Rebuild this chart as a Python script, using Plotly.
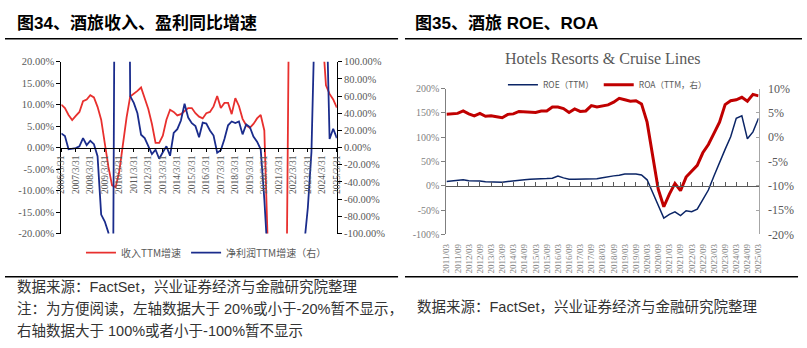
import plotly.graph_objects as go

# ---------------- Left chart: 酒旅收入、盈利同比增速 (quarterly) ----------------
left_quarters = [f"{y}/{q}" for y in range(2006, 2025) for q in ["3/31", "6/30", "9/30", "12/31"]] + ["2025/3/31"]
left_tick_labels = [f"{y}/3/31" for y in range(2006, 2026)]

revenue_ttm = [10.0, 9.2, 7.6, 6.4, 7.4, 8.3, 10.8, 11.2, 12.2, 11.7,
               9.5, 6.5, 1.0, -4.5, -8.8, -9.2, -5.5, 1.0, 7.0, 11.9,
               12.5, 13.2, 14.0, 11.5, 9.0, 5.5, 1.1, 1.1, 2.8, 6.5,
               8.8, 8.3, 7.5, 7.8, 8.6, 9.2, 9.2, 8.0, 7.2, 6.8,
               8.0, 8.3, 9.6, 12.0, 9.2, 10.4, 10.4, 7.8, 11.5, 9.7,
               6.7, 5.2, 4.6, 5.5, 6.8, 7.6, 4.0, -24, -60, -75,
               -80, -70, -45, 45, 150, 200, 220, 180, 110, 70,
               45, 32, 27, 14.5, 12.5, 11.2, 9.3]

profit_ttm = [16.5, 13.5, -2, -1.5, -0.5, 1.5, 11, 3, 8, 4,
              -10, -78, -86, -99, -400, 450, 800, 1000, 700, 60,
              52, 40, 15, 11, 2, -7.5, -2.5, -13, -5.5, 1.5,
              -9.5, 17, 21.5, 31.5, 51, 35, 28.5, 25, 12, 29,
              28, 20, 14, -6, -3, 10, 26, 30.4, 28.5, 30.4,
              15.4, 27, 24, 12.8, 7, -2, -60, -150, -250, -300,
              -350, -300, -250, -200, -170, -150, -130, -113, -70, -5,
              170, 600, 900, 190, 10, 22, 11]

left_y_vals = [-20, -15, -10, -5, 0, 5, 10, 15, 20]
left_y_text = ["-20.00%", "-15.00%", "-10.00%", "-5.00%", "0.00%", "5.00%", "10.00%", "15.00%", "20.00%"]
right_y_vals = [-100, -80, -60, -40, -20, 0, 20, 40, 60, 80, 100]
right_y_text = ["-100.00%", "-80.00%", "-60.00%", "-40.00%", "-20.00%", "0.00%",
                "20.00%", "40.00%", "60.00%", "80.00%", "100.00%"]

# ---------------- Right chart: Hotels Resorts & Cruise Lines ROE / ROA ----------------
right_quarters = [f"{y}/{m}" for y in range(2011, 2025) for m in ["03", "06", "09", "12"]] + ["2025/03"]
right_tick_labels = [f"{y}/{m}" for y in range(2011, 2025) for m in ["03", "09"]] + ["2025/03"]

roe_ttm = [9.1, 9.8, 10.5, 12.4, 10.5, 10.5, 10.0, 8.5, 8.5, 8.0,
           7.2, 9.0, 10.5, 11.5, 12.4, 13.4, 14.4, 14.7, 15.0, 15.8,
           20.3, 16.4, 13.8, 13.5, 13.8, 14.4, 15.0, 14.4, 16.5, 19.0,
           20.5, 21.7, 24.3, 24.3, 24.3, 22.3, 12.4, -13.8, -40, -66.5,
           -58.6, -53.3, -61, -51.3, -53.3, -48, -28.4, -8.6, 20.3, 48.6,
           75, 101, 139, 144, 96.7, 111, 139]

roa_ttm = [4.7, 4.8, 4.9, 5.4, 4.8, 4.4, 4.9, 4.3, 4.4, 4.2,
           4.0, 4.7, 4.8, 5.3, 5.2, 5.1, 5.1, 5.4, 5.4, 6.2,
           6.2, 5.9, 5.1, 5.8, 5.3, 5.4, 6.5, 6.2, 6.4, 6.65,
           7.2, 8.0, 7.7, 7.4, 7.5, 6.85, 3.1, -4.1, -10.7, -14.3,
           -11.7, -9.5, -11.0, -8.2, -7.1, -5.8, -3.2, -1.5, 0.8, 3.1,
           6.7, 7.5, 7.7, 8.2, 7.4, 8.8, 8.5]

roe_y_vals = [-100, -50, 0, 50, 100, 150, 200]
roe_y_text = ["-100%", "-50%", "0%", "50%", "100%", "150%", "200%"]
roa_y_vals = [-20, -15, -10, -5, 0, 5, 10]
roa_y_text = ["-20%", "-15%", "-10%", "-5%", "0%", "5%", "10%"]

# ---------------- geometry helpers ----------------
W, H = 807, 348
def px(x):
    return x / W
def py(y):
    return 1 - y / H

CJK = "Noto Sans CJK SC"
SANS = "Liberation Sans, Noto Sans CJK SC"
SERIF = "Liberation Serif"

fig = go.Figure()

fig.add_trace(go.Scatter(x=left_quarters, y=revenue_ttm, mode="lines", name="收入TTM增速",
                         line=dict(color="#E8302E", width=1.8), xaxis="x", yaxis="y", legend="legend"))
fig.add_trace(go.Scatter(x=left_quarters, y=profit_ttm, mode="lines", name="净利润TTM增速（右）",
                         line=dict(color="#1A2C8C", width=1.8), xaxis="x", yaxis="y2", legend="legend"))

fig.add_trace(go.Scatter(x=right_quarters, y=roe_ttm, mode="lines", name="ROE（TTM）",
                         line=dict(color="#0B2566", width=1.5), xaxis="x3", yaxis="y3", legend="legend2"))
fig.add_trace(go.Scatter(x=right_quarters, y=roa_ttm, mode="lines", name="ROA（TTM，右）",
                         line=dict(color="#C00000", width=3), xaxis="x3", yaxis="y4", legend="legend2"))
# helper trace for the zero-line tick axis of the right chart
fig.add_trace(go.Scatter(x=[0, len(right_quarters) - 1], y=[None, None], mode="lines",
                         showlegend=False, hoverinfo="skip", xaxis="x4", yaxis="y3"))

lx0, lx1 = px(57), px(336)
ly0, ly1 = py(236), py(57)
rx0, rx1 = px(447), px(763)
ry0, ry1 = py(237), py(85)

left_tickfont = dict(family=SERIF, size=10.5, color="#595959")

fig.update_layout(
    width=W, height=H,
    margin=dict(l=0, r=0, t=0, b=0),
    paper_bgcolor="white", plot_bgcolor="rgba(0,0,0,0)",
    showlegend=True,
    xaxis=dict(domain=[lx0, lx1], anchor="free", position=(ly0 + ly1) / 2,
               type="category", categoryorder="array", categoryarray=left_quarters,
               range=[0, len(left_quarters) - 1],
               tickmode="array", tickvals=left_tick_labels, ticktext=left_tick_labels,
               tickangle=-90, tickfont=dict(family=SERIF, size=9.5, color="#595959"),
               showline=True, linecolor="#000000", linewidth=1,
               ticks="outside", ticklen=3, tickcolor="#000000",
               showgrid=False, zeroline=False),
    yaxis=dict(domain=[ly0, ly1], anchor="x", range=[-20, 20],
               tickmode="array", tickvals=left_y_vals, ticktext=left_y_text,
               tickfont=left_tickfont, showline=True, linecolor="#000000", linewidth=1,
               ticks="outside", ticklen=4, tickcolor="#000000",
               showgrid=False, zeroline=False),
    yaxis2=dict(overlaying="y", side="right", anchor="x", range=[-100, 100],
                tickmode="array", tickvals=right_y_vals, ticktext=right_y_text,
                tickfont=left_tickfont, showline=True, linecolor="#000000", linewidth=1,
                ticks="outside", ticklen=4, tickcolor="#000000",
                showgrid=False, zeroline=False),
    xaxis3=dict(domain=[rx0, rx1], anchor="y3",
                type="category", categoryorder="array", categoryarray=right_quarters,
                range=[0, len(right_quarters) - 1],
                tickmode="array", tickvals=right_tick_labels, ticktext=right_tick_labels,
                tickangle=-90, tickfont=dict(family=SERIF, size=9, color="#7F7F7F"),
                showline=False, ticks="outside", ticklen=5, tickcolor="rgba(0,0,0,0)",
                showgrid=False, zeroline=False),
    xaxis4=dict(domain=[rx0, rx1], overlaying="x3", anchor="free",
                position=ry0 + (ry1 - ry0) * (100 / 300),
                type="linear", range=[0, len(right_quarters) - 1],
                tickmode="linear", tick0=0, dtick=2,
                showticklabels=False, showline=True, linecolor="#595959", linewidth=1,
                ticks="inside", ticklen=4, tickcolor="#595959",
                showgrid=False, zeroline=False),
    yaxis3=dict(domain=[ry0, ry1], anchor="x3", range=[-100, 200],
                tickmode="array", tickvals=roe_y_vals, ticktext=roe_y_text,
                tickfont=dict(family=SERIF, size=10, color="#7F7F7F"),
                showline=True, linecolor="#7F7F7F", linewidth=1,
                ticks="outside", ticklen=4, tickcolor="#7F7F7F",
                showgrid=False, zeroline=False),
    yaxis4=dict(overlaying="y3", side="right", anchor="x3", range=[-20, 10],
                tickmode="array", tickvals=roa_y_vals, ticktext=roa_y_text,
                tickfont=dict(family=SERIF, size=12, color="#595959"),
                showline=True, linecolor="#A6A6A6", linewidth=1,
                ticks="inside", ticklen=3, tickcolor="#A6A6A6", ticklabelstandoff=6,
                showgrid=False, zeroline=False),
    legend=dict(orientation="h", x=px(204), y=py(256), xanchor="center", yanchor="middle",
                font=dict(family=CJK, size=10, color="#595959"), bgcolor="rgba(0,0,0,0)",
                itemwidth=30, tracegroupgap=0),
    legend2=dict(orientation="h", x=px(610), y=py(81), xanchor="center", yanchor="middle",
                 font=dict(family=CJK, size=8.5, color="#595959"), bgcolor="rgba(0,0,0,0)",
                 itemwidth=30, tracegroupgap=0),
)

annotations = [
    dict(text="<b>图34、酒旅收入、盈利同比增速</b>", x=px(10), y=py(17), xanchor="left", yanchor="middle",
         font=dict(family=SANS, size=17, color="#000000")),
    dict(text="<b>图35、酒旅 ROE、ROA</b>", x=px(413), y=py(17), xanchor="left", yanchor="middle",
         font=dict(family=SANS, size=17, color="#000000")),
    dict(text="Hotels Resorts & Cruise Lines", x=px(605), y=py(54), xanchor="center", yanchor="middle",
         font=dict(family=SERIF, size=16, color="#595959")),
    dict(text="数据来源：FactSet，兴业证券经济与金融研究院整理", x=px(10), y=py(292), xanchor="left", yanchor="middle",
         font=dict(family=SANS, size=14.5, color="#333333")),
    dict(text="注：为方便阅读，左轴数据大于 20%或小于-20%暂不显示，", x=px(10), y=py(315), xanchor="left", yanchor="middle",
         font=dict(family=SANS, size=14.5, color="#333333")),
    dict(text="右轴数据大于 100%或者小于-100%暂不显示", x=px(10), y=py(338), xanchor="left", yanchor="middle",
         font=dict(family=SANS, size=14.5, color="#333333")),
    dict(text="数据来源：FactSet，兴业证券经济与金融研究院整理", x=px(415), y=py(313), xanchor="left", yanchor="middle",
         font=dict(family=SANS, size=14.5, color="#333333")),
]
for a in annotations:
    a.update(xref="paper", yref="paper", showarrow=False)
fig.update_layout(annotations=annotations)

shapes = [
    dict(type="line", x0=0, x1=px(398), y0=py(33), y1=py(33)),
    dict(type="line", x0=px(405), x1=1, y0=py(33), y1=py(33)),
    dict(type="line", x0=0, x1=px(398), y0=py(281), y1=py(281)),
    dict(type="line", x0=px(405), x1=px(803), y0=py(281), y1=py(281)),
]
for s in shapes:
    s.update(xref="paper", yref="paper", line=dict(color="#000000", width=1.5))
fig.update_layout(shapes=shapes)

fig.write_html("out.html")
